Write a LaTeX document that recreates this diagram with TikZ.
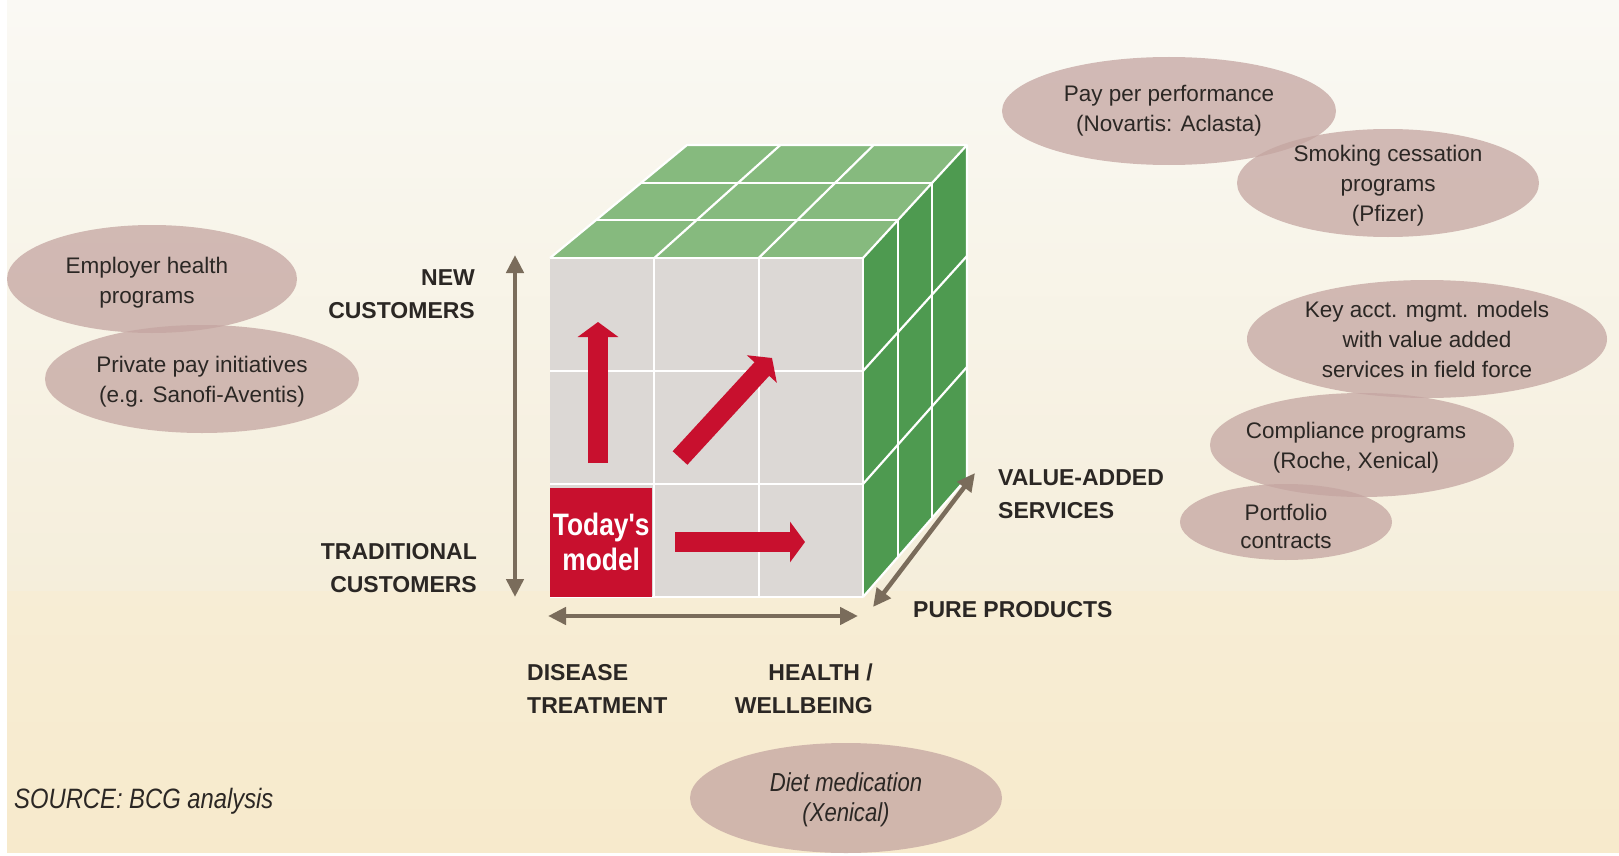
\documentclass[tikz,border=0pt]{standalone}
\usepackage{fontspec}
\setmainfont{Liberation Sans}
\newfontfamily\condsans[FakeStretch=0.85]{Liberation Sans}
\usetikzlibrary{shapes.geometric,arrows.meta,calc}

\definecolor{bgtop}{HTML}{FAF9F4}
\definecolor{bgmid}{HTML}{F5EEDB}
\definecolor{bglow}{HTML}{F7EDD5}
\definecolor{bgbot}{HTML}{F7EACC}
\definecolor{bubblefill}{HTML}{C4A5A1}
\definecolor{ink}{HTML}{2B2724}
\definecolor{axisbrown}{HTML}{7A6C5B}
\definecolor{cubegrey}{HTML}{DCD8D5}
\definecolor{toplight}{HTML}{86BA7E}
\definecolor{sidedark}{HTML}{4E9A50}
\definecolor{modelred}{HTML}{C8102E}

\tikzset{
  bubble/.style={ellipse, fill=bubblefill, fill opacity=0.75, draw=none, inner sep=0pt},
  bubbletext/.style={align=center, text=ink, inner sep=0pt,
    font=\fontsize{22.5}{30}\selectfont},
  axislabel/.style={text=ink, inner sep=0pt,
    font=\bfseries\fontsize{23}{33}\selectfont},
  axisarrow/.style={draw=axisbrown, line width=4.5pt,
    {Triangle[length=18pt,width=17pt]}-{Triangle[length=18pt,width=17pt]}},
  growarrow/.style={draw=modelred, line width=20pt,
    -{Triangle[length=15pt,width=40pt]}},
  gridline/.style={draw=white, line width=2.2pt, line join=round},
}

\begin{document}
\begin{tikzpicture}[x=1pt,y=-1pt]
\useasboundingbox (0,0) rectangle (1619,856);

% paper background
\fill[white] (0,0) rectangle (1619,856);
\shade[top color=bgtop, bottom color=bgmid] (7,0) rectangle (1619,592);
\shade[top color=bglow, bottom color=bgbot] (7,591) rectangle (1619,852);

% bubbles
\node[bubble, minimum width=290pt, minimum height=108pt] (emp)  at (152,279) {};
\node[bubble, minimum width=314pt, minimum height=108pt] (priv) at (202,379) {};
\node[bubble, minimum width=334pt, minimum height=108pt] (pay)  at (1169,111) {};
\node[bubble, minimum width=302pt, minimum height=108pt] (smok) at (1388,183) {};
\node[bubble, minimum width=360pt, minimum height=118pt] (key)  at (1427,339) {};
\node[bubble, minimum width=304pt, minimum height=104pt] (comp) at (1362,445) {};
\node[bubble, minimum width=212pt, minimum height=76pt]  (port) at (1286,522) {};
\node[bubble, minimum width=312pt, minimum height=110pt] (diet) at (846,798) {};

\node[bubbletext, xshift=-5pt, yshift=-4pt] (empT)  at (emp)  {Employer health\\programs};
\node[bubbletext, yshift=-3pt] (privT) at (priv) {Private pay initiatives\\(e.g. Sanofi-Aventis)};
\node[bubbletext] (payT)  at (pay)  {Pay per performance\\(Novartis: Aclasta)};
\node[bubbletext, yshift=-3pt] (smokT) at (smok) {Smoking cessation\\programs\\(Pfizer)};
\node[bubbletext] (keyT)  at (key)  {Key acct. mgmt. models\\with value added\\services in field force};
\node[bubbletext, xshift=-6pt, yshift=-3pt] (compT) at (comp) {Compliance programs\\(Roche, Xenical)};
\node[bubbletext, yshift=-4pt, font=\fontsize{22.5}{28}\selectfont] (portT) at (port) {Portfolio\\contracts};
\node[bubbletext, yshift=-2pt, font=\condsans\itshape\fontsize{26}{30}\selectfont] (dietT) at (diet) {Diet medication\\(Xenical)};

% cube corners
\coordinate (A) at (550,597); % front, bottom left
\coordinate (B) at (863,597); % front, bottom right
\coordinate (C) at (863,258); % front, top right
\coordinate (D) at (550,258); % front, top left
\coordinate (E) at (687,145); % back, top left
\coordinate (F) at (967,145); % back, top right
\coordinate (G) at (967,478); % back, bottom right

\fill[cubegrey] (A) -- (B) -- (C) -- (D) -- cycle;
\fill[toplight] (D) -- (C) -- (F) -- (E) -- cycle;
\fill[sidedark] (B) -- (G) -- (F) -- (C) -- cycle;

% white seams between the small cubes
\foreach \t in {0.3333,0.6667} {
  \draw[gridline] ($(A)!\t!(B)$) -- ($(D)!\t!(C)$);
  \draw[gridline] ($(A)!\t!(D)$) -- ($(B)!\t!(C)$);
  \draw[gridline] ($(D)!\t!(E)$) -- ($(C)!\t!(F)$);
  \draw[gridline] ($(D)!\t!(C)$) -- ($(E)!\t!(F)$);
  \draw[gridline] ($(C)!\t!(F)$) -- ($(B)!\t!(G)$);
  \draw[gridline] ($(B)!\t!(C)$) -- ($(G)!\t!(F)$);
}
\draw[gridline] (D) -- (C) -- (B) -- (A);
\draw[gridline] (D) -- (E) -- (F) -- (G) -- (B);
\draw[gridline] (C) -- (F);

% current business model
\node[fill=modelred, text=white, minimum width=102pt, minimum height=109pt,
      anchor=south west, inner sep=0pt, align=center,
      font=\condsans\bfseries\fontsize{31}{35}\selectfont] (today) at (550,597) {Today's\\model};

% growth directions
\coordinate (upS) at (598,463);   \coordinate (upE) at (598,322);
\coordinate (rtS) at (675,542);   \coordinate (rtE) at (805,542);
\coordinate (dgS) at (680,458);   \coordinate (dgE) at (772,358);
\draw[growarrow] (upS) -- (upE);
\draw[growarrow] (rtS) -- (rtE);
\draw[growarrow] (dgS) -- (dgE);

% axes
\coordinate (vBot) at (515,597);  \coordinate (vTop) at (515,255);
\coordinate (hL) at (548,616);    \coordinate (hR) at (858,616);
\coordinate (dF) at (873,607);    \coordinate (dB) at (975,473);
\draw[axisarrow] (vBot) -- (vTop);
\draw[axisarrow] (hL) -- (hR);
\draw[axisarrow] (dF) -- (dB);

% axis labels (base anchor sits on the last line)
\node[axislabel, align=right, anchor=base east] (newc) at (475,318) {NEW\\CUSTOMERS};
\node[axislabel, align=right, anchor=base east] (trad) at (477,592) {TRADITIONAL\\CUSTOMERS};
\node[axislabel, align=left, anchor=base west] (dis) at (527,713) {DISEASE\\TREATMENT};
\node[axislabel, align=right, anchor=base east] (hea) at (873,713) {HEALTH /\\WELLBEING};
\node[axislabel, align=left, anchor=base west] (vas) at (998,518) {VALUE-ADDED\\SERVICES};
\node[axislabel, anchor=base west] (pure) at (913,617) {PURE PRODUCTS};

\node[anchor=base west, inner sep=0pt, text=ink,
      font=\condsans\itshape\fontsize{28}{32}\selectfont] (src) at (14,808) {SOURCE: BCG analysis};
\end{tikzpicture}
\end{document}
